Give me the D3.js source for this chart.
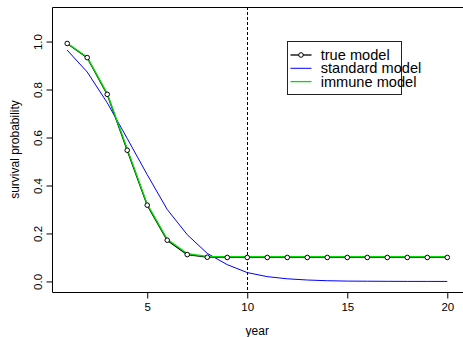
<!DOCTYPE html>
<html>
<head>
<meta charset="utf-8">
<script src="https://cdn.jsdelivr.net/npm/d3@7"></script>
<style>
  body { margin: 0; background: #fff; }
  svg { display: block; font-family: "Liberation Sans", Arial, sans-serif; }
</style>
</head>
<body>
<div id="chart"></div>
<script>
// survival curves, one value per year
let years = [1,2,3,4,5,6,7,8,9,10,11,12,13,14,15,16,17,18,19,20];
let trueModel = [0.992,0.933,0.780,0.547,0.318,0.172,0.112,0.101,0.100,0.100,
                 0.100,0.100,0.100,0.100,0.100,0.100,0.100,0.100,0.100,0.100];
let standardModel = [0.964,0.873,0.745,0.596,0.445,0.300,0.195,0.117,0.070,0.037,
                     0.020,0.011,0.006,0.003,0.0015,0.001,0.0005,0.0002,0.0001,0];
let immuneModel = [0.993,0.935,0.783,0.552,0.322,0.176,0.116,0.104,0.103,0.103,
                   0.103,0.103,0.103,0.103,0.103,0.103,0.103,0.103,0.103,0.103];
let xTicks = [5,10,15,20];
let yTicks = [0,0.2,0.4,0.6,0.8,1.0];
let cutYear = 10;
let legendKeys = ["true model", "standard model", "immune model"];
let colors = ['#000000', '#0000ff', '#00dd00'];

let drawChart = function(){
    let width = 463, height = 337;
    let left = 52, right = 462.5, top = 7, bottom = 292;

    let svg = d3.select('#chart').append('svg')
        .attr('width', width).attr('height', height);

    // R style 4% padding around the data range
    let xScale = d3.scaleLinear().domain([0.24, 20.76]).range([left, right]);
    let yScale = d3.scaleLinear().domain([-0.044, 1.144]).range([bottom, top]);

    let line = d3.line()
        .x(function(d, i) { return xScale(years[i]); })
        .y(function(d) { return yScale(d); });

    // frame (right side falls off the picture)
    svg.append('path')
        .attr('d', 'M' + (width + 2) + ',' + (top + 0.5) + 'H' + (left + 0.5) +
                   'V' + (bottom + 0.5) + 'H' + (width + 2))
        .attr('fill', 'none').attr('stroke', '#000').attr('stroke-width', 1);

    let xAxis = svg.append('g')
        .attr('transform', 'translate(0,' + (bottom + 0.5) + ')')
        .call(d3.axisBottom(xScale).tickValues(xTicks).tickSize(6).tickPadding(4));
    xAxis.select('.domain').remove();
    xAxis.selectAll('text').attr('font-size', '11.5px').attr('fill', '#000')
        .attr('font-family', '"Liberation Sans", Arial, sans-serif');

    let yAxis = svg.append('g')
        .attr('transform', 'translate(' + (left + 0.5) + ',0)')
        .call(d3.axisLeft(yScale).tickValues(yTicks).tickSize(6)
              .tickFormat(d3.format('.1f')));
    yAxis.select('.domain').remove();
    yAxis.selectAll('text')
        .attr('font-size', '11.5px').attr('fill', '#000')
        .attr('font-family', '"Liberation Sans", Arial, sans-serif')
        .attr('x', null).attr('dy', null)
        .attr('text-anchor', 'middle')
        .attr('transform', 'translate(-15,0) rotate(-90)')
        .attr('dominant-baseline', 'central');

    svg.append('text').text('year')
        .attr('x', (left + right) / 2).attr('y', 335)
        .attr('text-anchor', 'middle').attr('font-size', '12px');

    svg.append('text').text('survival probability')
        .attr('transform', 'translate(19,' + ((top + bottom) / 2) + ') rotate(-90)')
        .attr('text-anchor', 'middle').attr('font-size', '12px');

    // vertical reference line
    svg.append('line')
        .attr('x1', Math.round(xScale(cutYear)) + 0.5).attr('x2', Math.round(xScale(cutYear)) + 0.5)
        .attr('y1', top).attr('y2', bottom)
        .attr('stroke', '#000').attr('stroke-width', 1)
        .attr('stroke-dasharray', '3,2');

    svg.append('path').datum(trueModel)
        .attr('d', line).attr('fill', 'none')
        .attr('stroke', colors[0]).attr('stroke-width', 1.3);

    svg.append('path').datum(standardModel)
        .attr('d', line).attr('fill', 'none')
        .attr('stroke', colors[1]).attr('stroke-width', 1);

    svg.append('path').datum(immuneModel)
        .attr('d', line).attr('fill', 'none')
        .attr('stroke', colors[2]).attr('stroke-width', 1.3);

    svg.selectAll('.pt').data(trueModel).enter().append('circle')
        .attr('class', 'pt')
        .attr('cx', function(d, i) { return xScale(years[i]); })
        .attr('cy', function(d) { return yScale(d); })
        .attr('r', 2.3)
        .attr('fill', '#fff').attr('stroke', '#000').attr('stroke-width', 1);

    // legend
    let lg = svg.append('g').attr('transform', 'translate(287.5,41.5)');
    lg.append('rect').attr('width', 114).attr('height', 53)
        .attr('fill', '#fff').attr('stroke', '#222').attr('stroke-width', 1);

    let rows = lg.selectAll('.lineLegend').data(legendKeys)
        .enter().append('g')
        .attr('class', 'lineLegend')
        .attr('transform', function(d, i) { return 'translate(0,' + (13.5 + i * 13.3) + ')'; });

    rows.append('line')
        .attr('x1', 3).attr('x2', 24).attr('y1', 0).attr('y2', 0)
        .attr('stroke', function(d, i) { return colors[i]; })
        .attr('stroke-width', function(d, i) { return i == 1 ? 1 : 1.3; });

    rows.filter(function(d, i) { return i == 0; }).append('circle')
        .attr('cx', 13.5).attr('cy', 0).attr('r', 2.3)
        .attr('fill', '#fff').attr('stroke', '#000');

    rows.append('text').text(function(d) { return d; })
        .attr('x', 33.2).attr('y', 0)
        .attr('dominant-baseline', 'central')
        .attr('font-size', '14.6px');
};

drawChart();
</script>
</body>
</html>
